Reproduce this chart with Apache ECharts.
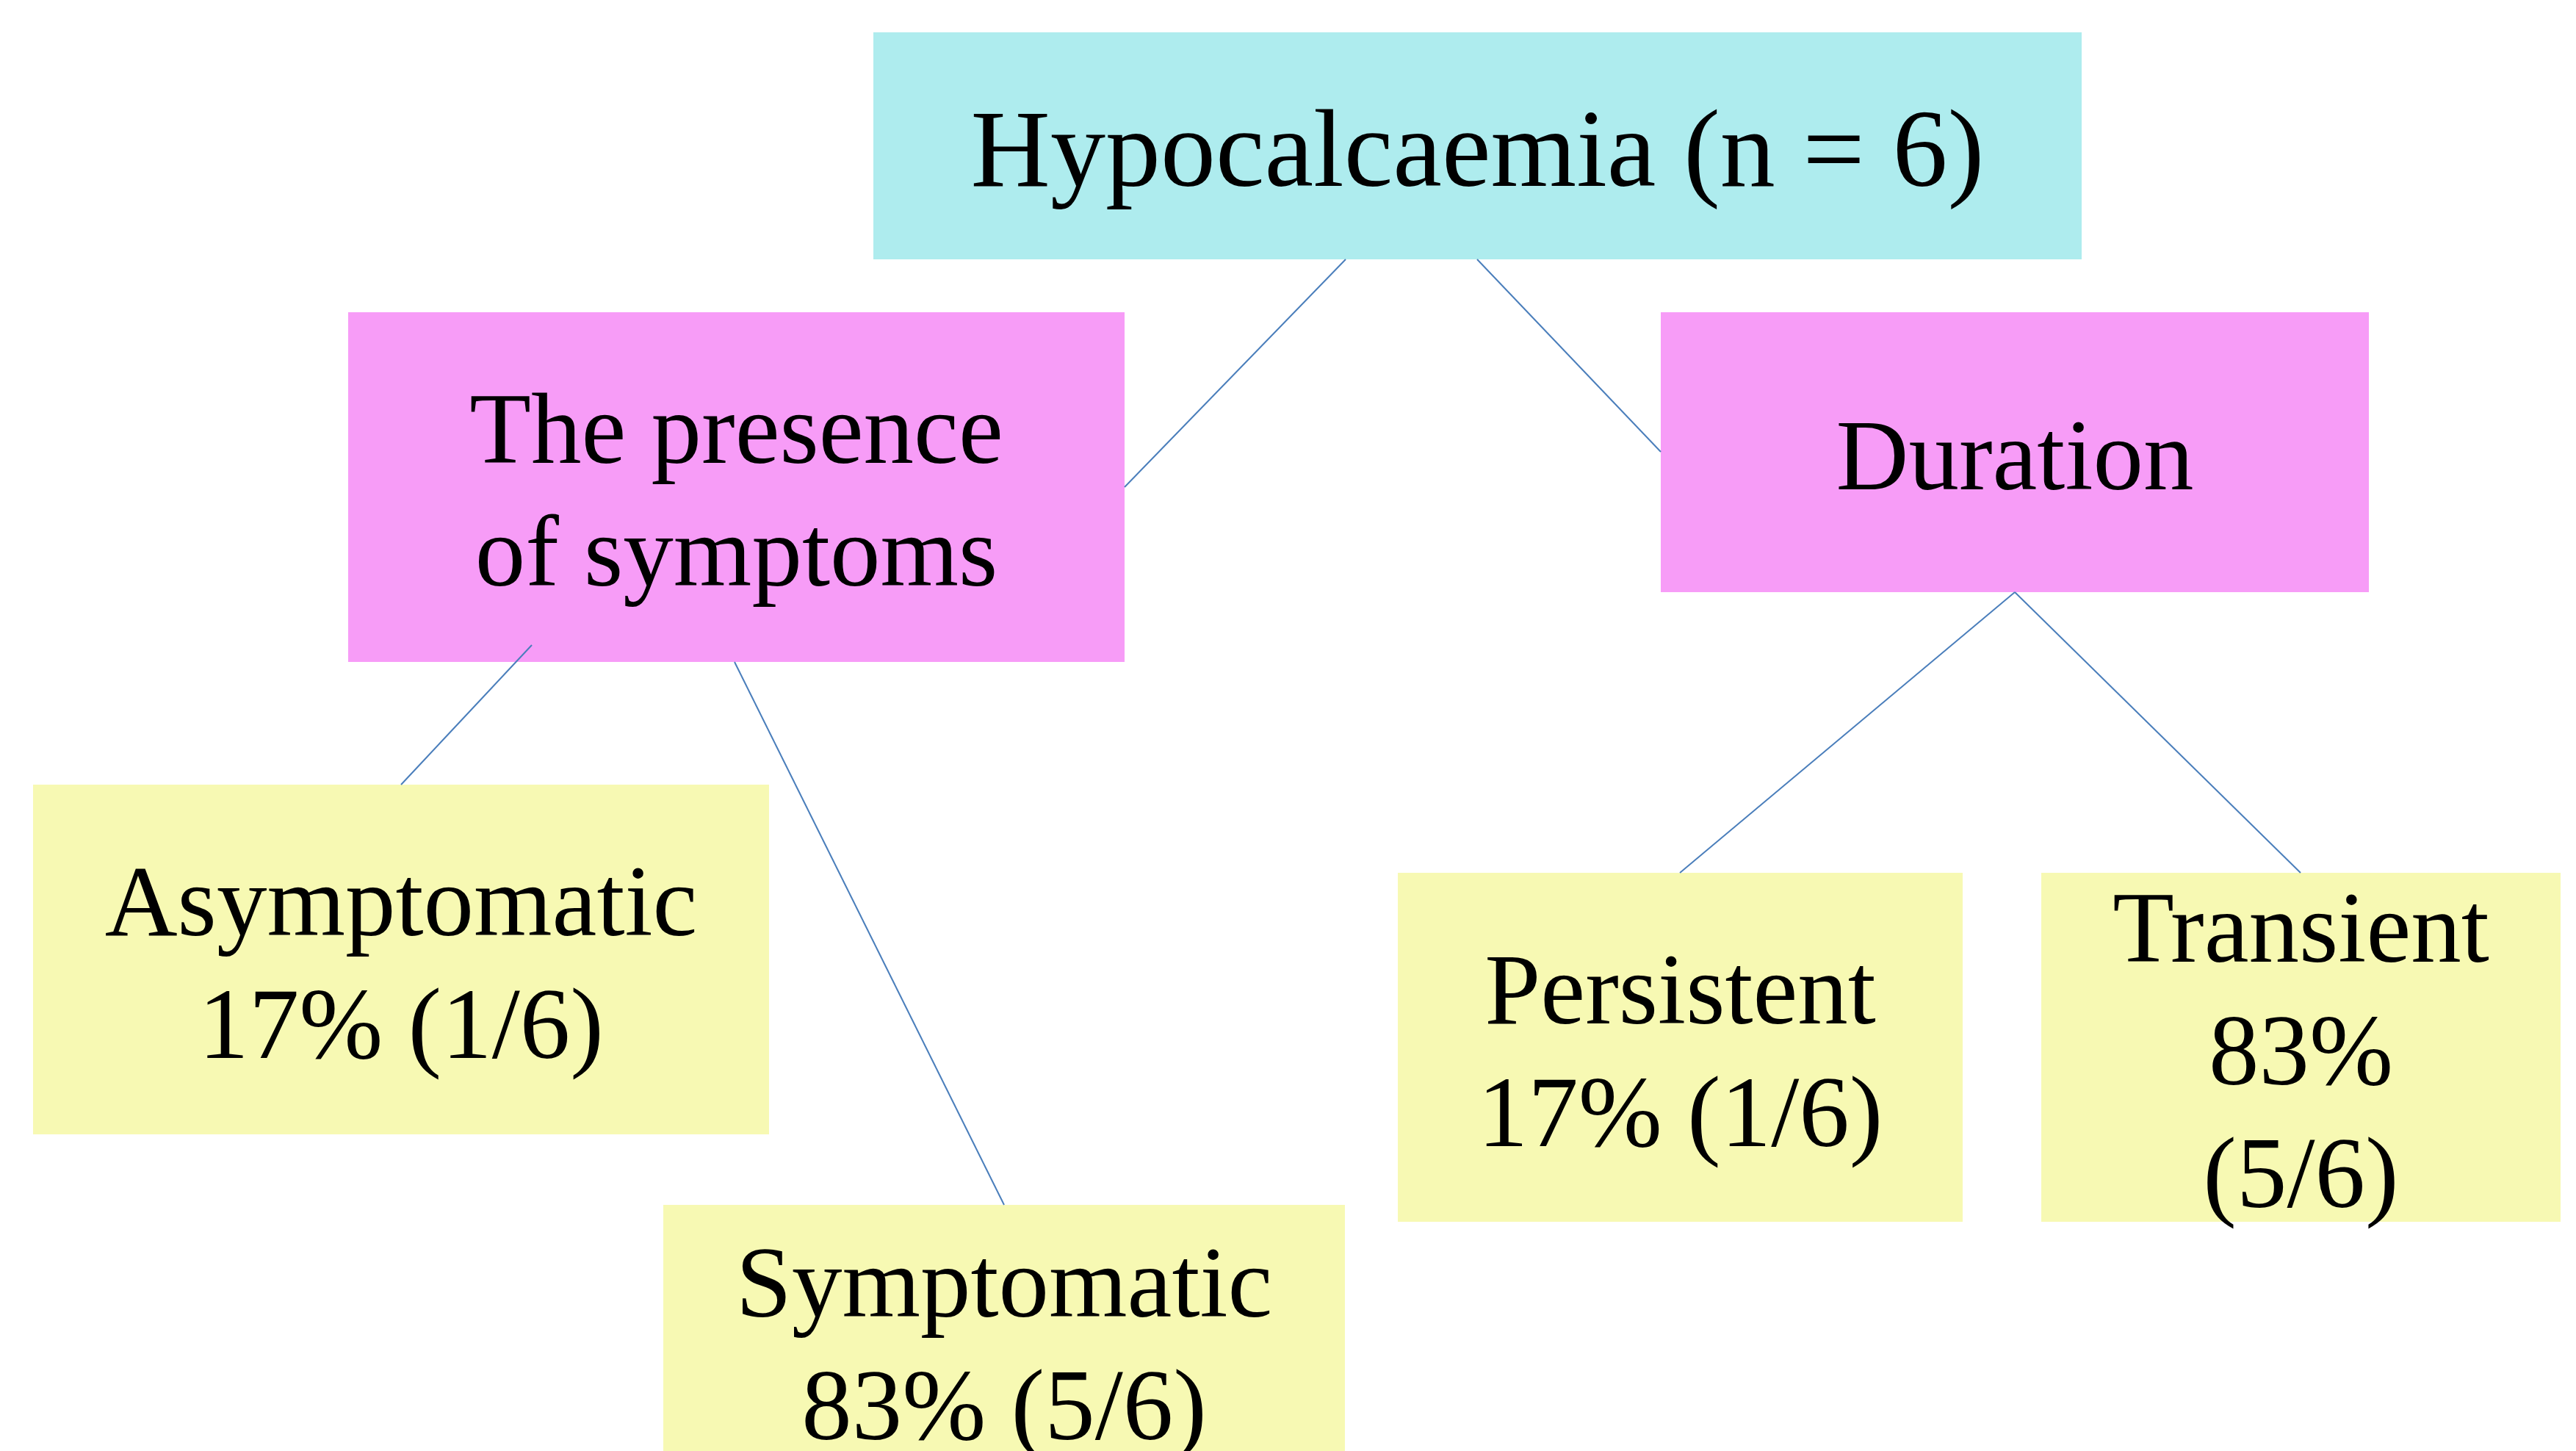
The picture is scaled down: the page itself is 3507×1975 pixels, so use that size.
<!DOCTYPE html>
<html>
<head>
<meta charset="utf-8">
<script src="https://cdn.jsdelivr.net/npm/echarts@6/dist/echarts.min.js"></script>
<style>
  html, body { margin: 0; padding: 0; background: #ffffff; }
  #chart { width: 3507px; height: 1975px; }
</style>
</head>
<body>
<div id="chart"></div>
<script>
// node texts of the tree
var nodeLabels = [
  'Hypocalcaemia (n = 6)',
  'The presence\nof symptoms',
  'Duration',
  'Asymptomatic\n17% (1/6)',
  'Symptomatic\n83% (5/6)',
  'Persistent\n17% (1/6)',
  'Transient\n83%\n(5/6)'
]
// level of each node (0 root, 1 question, 2 outcome)
var nodeLevel = [0, 1, 1, 2, 2, 2, 2]
// parent -> child links
var linkPairs = [[0, 1], [0, 2], [1, 3], [1, 4], [2, 5], [2, 6]]

// layout: box extents [x0, y0, x1, y1] in page units
var boxLayout = [
  [1189, 44, 2834, 353],
  [474, 425, 1531, 901],
  [2261, 425, 3225, 806],
  [45, 1068, 1047, 1544],
  [903, 1640, 1831, 2010],
  [1903, 1188, 2672, 1663],
  [2779, 1188, 3486, 1663]
]
// layout: connector end points for each link
var linkLayout = [
  [[1832, 353], [1531, 663]],
  [[2011, 353], [2261, 615]],
  [[724, 878], [546, 1068]],
  [[1000, 901], [1367, 1640]],
  [[2743, 806], [2287, 1188]],
  [[2743, 806], [3132, 1188]]
]

var levelColor = ['#aeecee', '#f79cf7', '#f7f9b3']
var levelFont = [150, 137, 137]
var textShift = 15

var myChart = echarts.init(document.getElementById('chart'))

var boxData = nodeLabels.map(function (t, i) {
  return boxLayout[i].concat([i])
})

var lineData = linkPairs.map(function (p, i) {
  return { name: nodeLabels[p[0]] + ' -> ' + nodeLabels[p[1]], coords: linkLayout[i] }
})

myChart.setOption({
  animation: false,
  grid: { left: 0, right: 0, top: 0, bottom: 0 },
  xAxis: { type: 'value', min: 0, max: 3507, show: false },
  yAxis: { type: 'value', min: 0, max: 1975, inverse: true, show: false },
  series: [
    {
      type: 'custom',
      coordinateSystem: 'cartesian2d',
      clip: false,
      z: 1,
      data: boxData,
      renderItem: function (params, api) {
        var idx = api.value(4)
        var p0 = api.coord([api.value(0), api.value(1)])
        var p1 = api.coord([api.value(2), api.value(3)])
        var lvl = nodeLevel[idx]
        var fs = levelFont[lvl]
        return {
          type: 'group',
          children: [
            {
              type: 'rect',
              shape: { x: p0[0], y: p0[1], width: p1[0] - p0[0], height: p1[1] - p0[1] },
              style: { fill: levelColor[lvl] }
            },
            {
              type: 'text',
              style: {
                text: nodeLabels[idx],
                x: (p0[0] + p1[0]) / 2,
                y: (p0[1] + p1[1]) / 2 + textShift,
                align: 'center',
                verticalAlign: 'middle',
                fontFamily: 'Liberation Serif',
                fontSize: fs,
                lineHeight: 167,
                fill: '#000000'
              }
            }
          ]
        }
      }
    },
    {
      type: 'lines',
      coordinateSystem: 'cartesian2d',
      z: 5,
      data: lineData,
      lineStyle: { color: '#4a7ebb', width: 2, opacity: 1 }
    }
  ]
})
</script>
</body>
</html>
